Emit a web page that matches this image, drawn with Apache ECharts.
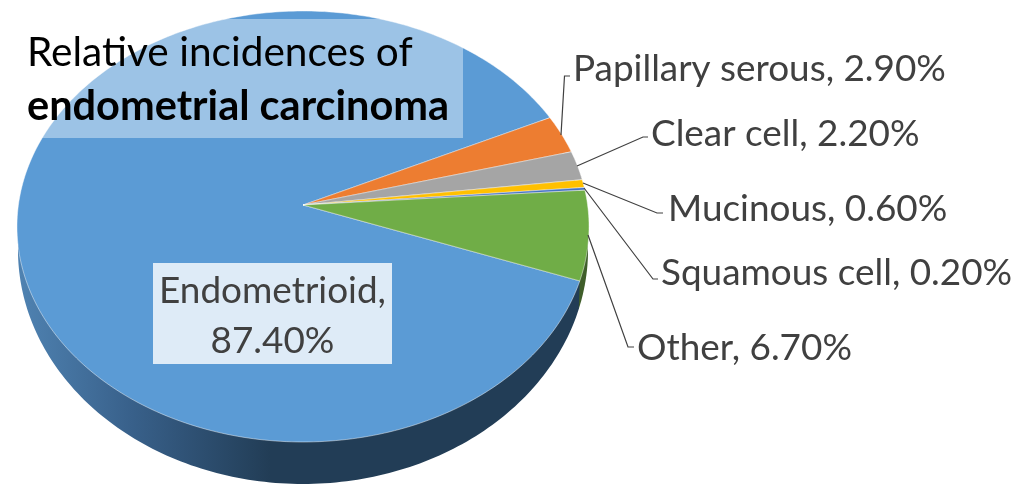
<!DOCTYPE html>
<html><head><meta charset="utf-8">
<style>html,body{margin:0;padding:0;background:#fff}#c{width:1024px;height:501px}</style>
<script src="https://cdn.jsdelivr.net/npm/echarts@6/dist/echarts.min.js"></script>
</head><body><div id="c"></div>
<script>
const categories = ['Endometrioid','Papillary serous','Clear cell','Mucinous','Squamous cell','Other'];
const percents = [87.4,2.9,2.2,0.6,0.2,6.7];
const titleLines = ['Relative incidences of','endometrial carcinoma'];
const colors = ['#5b9bd5','#ed7d31','#a5a5a5','#ffc000','#4472c4','#70ad47'];
const wallColors = ['#223d56','#8a4a1d','#606060','#947000','#27426f','#3f5e2a'];

// layout of the tilted disc (projective view of a circle)
const FACE = {cx:303, cy:205, a:284.6, b:213.35, k:0.09975};
const BASE = {cx:303, cy:226.6, a:283.6, b:231.7, k:0.09975};
const START = -20.1;           // degrees: where the first slice begins, running clockwise
const FONT = 'Lato, "Open Sans", sans-serif';
const INK = '#404040';
const LABEL_FONT = '36.9px '+FONT;
// label layout: text left/centre y and leader elbow
const labelLayout = [
  null,
  {x:573,y:69.5, elbow:[564.5,76], end:[570,76], from:[561,135]},
  {x:651,y:134.5,elbow:[643,137],  end:[648,137],from:[577,166]},
  {x:668,y:209.5,elbow:[657,213],  end:[663,213],from:[583,183]},
  {x:661,y:273.5,elbow:[653,279],  end:[658,279],from:[584,188]},
  {x:637,y:348.5,elbow:[628,347],  end:[634,347],from:[588,235]}
];

function project(d,deg){
  const t=deg*Math.PI/180, X=Math.cos(t), Y=Math.sin(t), w=1+d.k*Y;
  return [d.cx+d.a*X/w, d.cy-d.b*Y/w];
}
function sectorPoints(d,from,to){
  const pts=[[d.cx,d.cy]], n=Math.max(2,Math.ceil(Math.abs(to-from)));
  for(let i=0;i<=n;i++) pts.push(project(d,from+(to-from)*i/n));
  return pts;
}
// angular extent of each slice (clockwise from START)
const total=percents.reduce((s,v)=>s+v,0);
let run=START;
const spans=percents.map(v=>{const s=run, e=run-v/total*360; run=e; return [s,e];});

const wallGradient=new echarts.graphic.LinearGradient(20,0,270,0,[
  {offset:0,color:'#4f82b1'},{offset:.45,color:'#38608a'},{offset:1,color:'#223d56'}],true);

function wallPoints(i){
  const pts=sectorPoints(BASE,spans[i][0],spans[i][1]);
  // the first slice's wall rises to the face where it meets the last slice
  if(i===0) pts.splice(1,0,project(FACE,spans[0][0]));
  return pts;
}

const chart=echarts.init(document.getElementById('c'),null,{renderer:'canvas'});
const rows=percents.map((v,i)=>[i,v]);
const drawOrder=[5,4,3,2,1,0];
chart.setOption({
  animation:false,
  series:[
    {type:'custom',coordinateSystem:'none',silent:true,data:drawOrder.map(i=>rows[i]),z:1,
     renderItem:(p,api)=>{const i=api.value(0);
       return {type:'polygon',shape:{points:wallPoints(i)},
         style:{fill:i===0?wallGradient:wallColors[i]}};}},
    {type:'custom',coordinateSystem:'none',silent:true,data:rows,z:2,
     renderItem:(p,api)=>{const i=api.value(0);
       return {type:'polygon',shape:{points:sectorPoints(FACE,spans[i][0],spans[i][1])},
         style:{fill:colors[i],stroke:'rgba(255,255,255,0.45)',lineWidth:1}};}},
    {type:'custom',coordinateSystem:'none',silent:true,data:rows,z:3,
     renderItem:(p,api)=>{const i=api.value(0), L=labelLayout[i], v=api.value(1);
       if(!L){
         return {type:'group',children:[
           {type:'rect',shape:{x:153,y:263,width:239,height:101},style:{fill:'rgba(255,255,255,0.8)'}},
           {type:'text',style:{x:272.5,y:291,text:categories[i]+',',fill:INK,font:LABEL_FONT,align:'center',verticalAlign:'middle'}},
           {type:'text',style:{x:272.5,y:341,text:v.toFixed(2)+'%',fill:INK,font:LABEL_FONT,align:'center',verticalAlign:'middle'}}
         ]};
       }
       return {type:'group',children:[
         {type:'polyline',shape:{points:[L.from,L.elbow,L.end]},style:{fill:'none',stroke:'#404040',lineWidth:1.2}},
         {type:'text',style:{x:L.x,y:L.y,text:categories[i]+', '+v.toFixed(2)+'%',fill:INK,font:LABEL_FONT,align:'left',verticalAlign:'middle'}}
       ]};
     }}
  ],
  graphic:[
    {type:'rect',z:10,shape:{x:17,y:19,width:446,height:119},style:{fill:'rgba(255,255,255,0.4)'}},
    {type:'text',z:11,style:{x:27,y:53,text:titleLines[0],fill:'#000',font:'40.6px '+FONT,verticalAlign:'middle'}},
    {type:'text',z:11,style:{x:27,y:107,text:titleLines[1],fill:'#000',font:'bold 41.5px '+FONT,verticalAlign:'middle'}}
  ]
});
</script></body></html>
